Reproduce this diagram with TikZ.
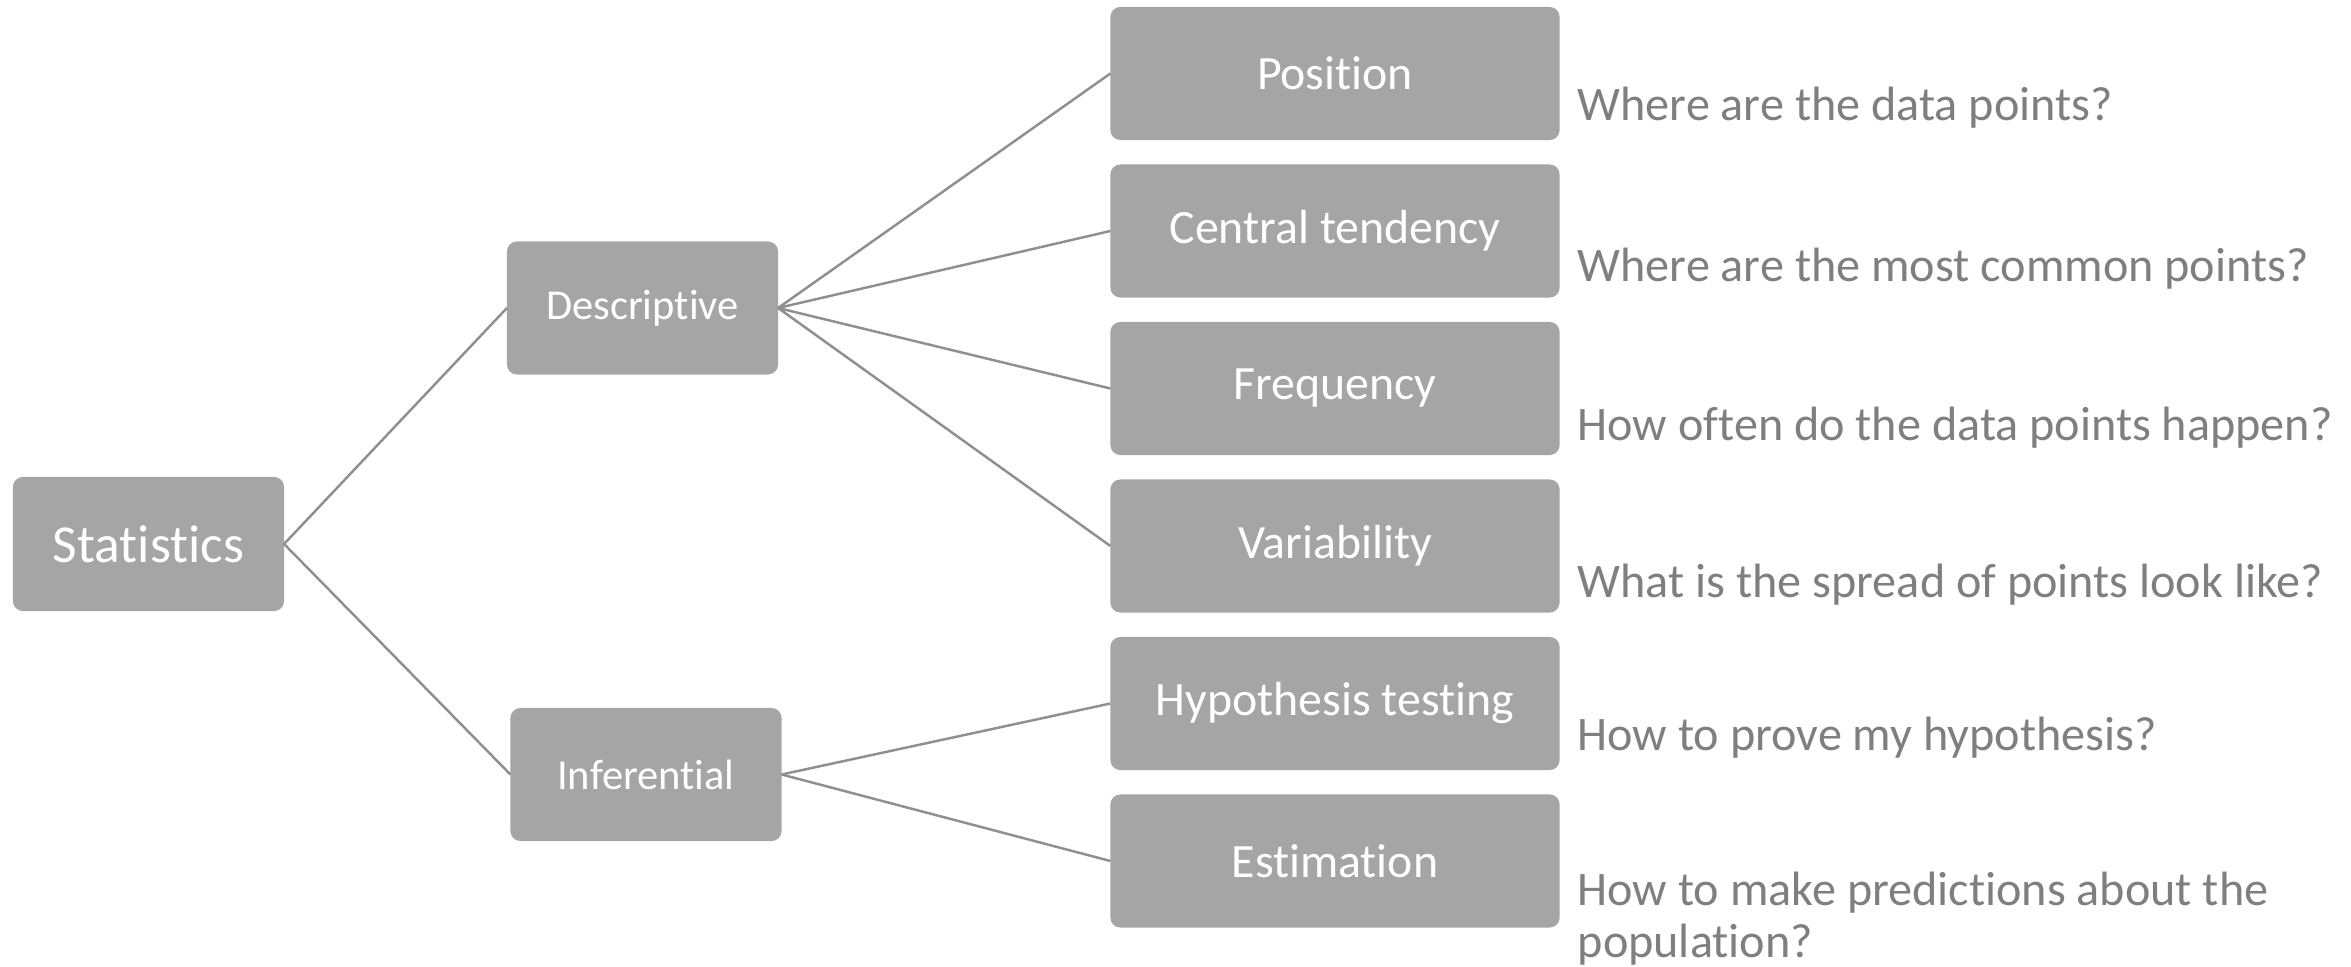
\documentclass[tikz,border=0pt]{standalone}
\usepackage{fontspec}
\setmainfont{Carlito}[Ligatures=NoCommon]
\definecolor{boxgray}{HTML}{A5A5A5}
\definecolor{qgray}{HTML}{7F7F7F}
\definecolor{linegray}{HTML}{8F8F8F}
\begin{document}
\begin{tikzpicture}[x=0.01cm,y=-0.01cm,
  box/.style={fill=boxgray,rounded corners=0.1cm,inner sep=0pt,outer sep=0pt,text=white,align=center},
  rootbox/.style={box,minimum width=2.71cm,minimum height=1.34cm,font=\fontsize{15.2}{18}\selectfont},
  midbox/.style={box,minimum width=2.71cm,minimum height=1.33cm,font=\fontsize{12.1}{14}\selectfont},
  leafbox/.style={box,minimum width=4.49cm,minimum height=1.33cm,font=\fontsize{13.6}{16}\selectfont},
  question/.style={anchor=base west,inner sep=0pt,text=qgray,font=\fontsize{13.7}{14.8}\selectfont},
  conn/.style={draw=linegray,line width=0.7pt}]
\useasboundingbox (0,0) rectangle (2351,967);
\node[rootbox] (stat) at (148.5,544) {Statistics};
\node[midbox] (desc) at (642.5,308) {Descriptive};
\node[midbox] (infer) at (646,774.5) {Inferential};
\node[leafbox] (pos) at (1335,73.5) {Position};
\node[leafbox] (cent) at (1335,231) {Central tendency};
\node[leafbox] (freq) at (1335,388.5) {Frequency};
\node[leafbox] (var) at (1335,546) {Variability};
\node[leafbox] (hyp) at (1335,703.5) {Hypothesis testing};
\node[leafbox] (est) at (1335,861) {Estimation};
\node[question] (q1) at (1577,121) {Where are the data points?};
\node[question] (q2) at (1577,282) {Where are the most common points?};
\node[question] (q3) at (1577,441) {How often do the data points happen?};
\node[question] (q4) at (1577,597) {What is the spread of points look like?};
\node[question] (q5) at (1577,750) {How to prove my hypothesis?};
\node[question] (q6) at (1577,905) {\begin{tabular}[t]{@{}l@{}}How to make predictions about the\\population?\end{tabular}};
\draw[conn] (stat.east) -- (desc.west);
\draw[conn] (stat.east) -- (infer.west);
\draw[conn] (desc.east) -- (pos.west);
\draw[conn] (desc.east) -- (cent.west);
\draw[conn] (desc.east) -- (freq.west);
\draw[conn] (desc.east) -- (var.west);
\draw[conn] (infer.east) -- (hyp.west);
\draw[conn] (infer.east) -- (est.west);
\end{tikzpicture}
\end{document}
